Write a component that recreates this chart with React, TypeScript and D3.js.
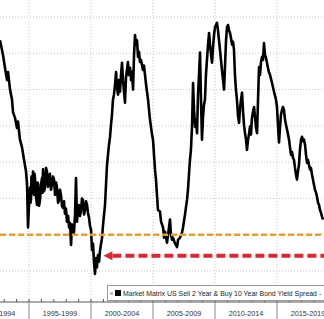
import React from "react";
import * as d3 from "d3";

const W = 324;
const H = 319;

// Decimal year of each observation
const years = [
  1992.66, 1992.9, 1993.06, 1993.23, 1993.31, 1993.47, 1993.63, 1993.71, 1993.87, 1994.03,
  1994.11, 1994.27, 1994.44, 1994.6, 1994.76, 1994.84, 1994.92, 1995.0, 1995.04, 1995.08, 1995.12, 1995.16,
  1995.2, 1995.24, 1995.28, 1995.32, 1995.36, 1995.4, 1995.44, 1995.48, 1995.56, 1995.65, 1995.69, 1995.73, 1995.81, 1995.89, 1995.97, 1996.05, 1996.09, 1996.13, 1996.21, 1996.29,
  1996.37, 1996.45, 1996.53, 1996.61, 1996.69, 1996.77, 1996.85, 1996.94, 1997.02, 1997.1, 1997.18, 1997.26, 1997.34, 1997.42, 1997.5, 1997.58, 1997.66, 1997.74,
  1997.82, 1997.9, 1997.98, 1998.06, 1998.15, 1998.23, 1998.31, 1998.39, 1998.47, 1998.55, 1998.63, 1998.71, 1998.79, 1998.87, 1998.95, 1999.03,
  1999.11, 1999.19, 1999.27, 1999.35, 1999.44, 1999.52, 1999.6, 1999.68, 1999.76, 1999.84, 1999.92, 2000.0, 2000.08, 2000.16, 2000.24, 2000.32,
  2000.4, 2000.48, 2000.56, 2000.65, 2000.73, 2000.89, 2000.97, 2001.13, 2001.21, 2001.29,
  2001.37, 2001.45, 2001.53, 2001.61, 2001.69, 2001.77, 2001.85, 2001.94, 2002.02, 2002.1,
  2002.18, 2002.26, 2002.34, 2002.42, 2002.5, 2002.58, 2002.66, 2002.74, 2002.82, 2002.9,
  2002.98, 2003.06, 2003.15, 2003.23, 2003.31, 2003.39, 2003.47, 2003.55, 2003.63, 2003.71,
  2003.79, 2003.87, 2003.95, 2004.03, 2004.19, 2004.27, 2004.44, 2004.6, 2004.76, 2004.92,
  2005.0, 2005.16, 2005.24, 2005.32, 2005.4, 2005.56, 2005.65, 2005.81, 2005.89, 2005.97,
  2006.13, 2006.21, 2006.29, 2006.37, 2006.45, 2006.53, 2006.61, 2006.77, 2006.94, 2007.02,
  2007.18, 2007.34, 2007.42, 2007.58, 2007.74, 2007.82, 2007.9, 2007.98, 2008.06, 2008.15,
  2008.23, 2008.31, 2008.39, 2008.47, 2008.55, 2008.63, 2008.71, 2008.79, 2008.87, 2008.95,
  2009.03, 2009.11, 2009.19, 2009.27, 2009.35, 2009.44, 2009.52, 2009.6, 2009.68, 2009.76,
  2009.84, 2009.92, 2010.0, 2010.08, 2010.16, 2010.24, 2010.32, 2010.4, 2010.48, 2010.56,
  2010.65, 2010.73, 2010.81, 2010.89, 2010.97, 2011.05, 2011.13, 2011.21, 2011.29, 2011.37,
  2011.45, 2011.53, 2011.61, 2011.69, 2011.77, 2011.85, 2011.94, 2012.02, 2012.1, 2012.18,
  2012.26, 2012.34, 2012.42, 2012.5, 2012.58, 2012.66, 2012.74, 2012.82, 2012.9, 2012.98,
  2013.06, 2013.15, 2013.23, 2013.31, 2013.39, 2013.47, 2013.55, 2013.63, 2013.71, 2013.79,
  2013.87, 2013.95, 2014.03, 2014.11, 2014.19, 2014.27, 2014.35, 2014.44, 2014.6, 2014.76,
  2014.92, 2015.0, 2015.08, 2015.16, 2015.24, 2015.32, 2015.4, 2015.48, 2015.56, 2015.65,
  2015.73, 2015.81, 2015.89, 2015.97, 2016.05, 2016.13, 2016.21, 2016.29, 2016.37, 2016.45,
  2016.53, 2016.61, 2016.69, 2016.77, 2016.85, 2016.94, 2017.02, 2017.1, 2017.18, 2017.26,
  2017.34, 2017.42, 2017.5, 2017.58, 2017.66, 2017.74, 2017.82, 2017.9, 2017.98, 2018.06,
  2018.15, 2018.23, 2018.31, 2018.39, 2018.47, 2018.55, 2018.63, 2018.71,
];

// 2s10s spread, basis points
const spread = [
  268, 248, 230, 213, 224, 200, 186, 169, 161, 147,
  156, 131, 120, 103, 87, 69, 10, 41, 60, 65, 44, 48,
  80, 76, 58, 87, 62, 55, 84, 78, 52, 41, 72, 69, 40, 48, 70, 78, 58, 90, 60, 65,
  92, 87, 66, 78, 84, 62, 69, 80, 76, 55, 72, 65, 44, 48, 62, 54, 40, 37,
  46, 29, 36, 18, 26, 10, 16, -14, 14, 0, 4, 28, 78, 18, 36, 41,
  26, 32, 50, 48, 28, 34, 46, 41, 30, 23, 12, 7, -21, -12, -37, -54,
  -32, -45, -28, -37, -21, -4, 14, 41, 69, 96,
  110, 124, 134, 151, 165, 186, 193, 207, 224, 202,
  193, 213, 197, 220, 237, 213, 197, 182, 216, 227,
  238, 220, 230, 213, 224, 200, 248, 275, 262, 268,
  245, 252, 238, 241, 227, 233, 207, 186, 158, 138,
  131, 90, 76, 55, 34, 32, 18, 10, -4, 4,
  -11, 0, 10, 21, 0, -7, -4, -12, -17, -7,
  -4, 3, 10, 28, 48, 62, 83, 103, 117, 151,
  209, 172, 149, 158, 140, 193, 220, 251, 186, 131,
  161, 179, 186, 220, 241, 262, 278, 262, 248, 237,
  258, 275, 286, 289, 292, 282, 268, 255, 241, 227,
  213, 200, 234, 268, 286, 289, 282, 278, 271, 262,
  266, 255, 220, 200, 186, 165, 154, 175, 186, 196,
  170, 151, 140, 131, 117, 131, 138, 149, 138, 161,
  169, 176, 161, 147, 140, 186, 231, 220, 238, 245,
  241, 264, 248, 244, 237, 230, 224, 220, 209, 197,
  186, 176, 151, 127, 147, 165, 172, 176, 172, 158,
  151, 145, 138, 131, 120, 110, 114, 106, 103, 92,
  83, 76, 87, 96, 117, 131, 135, 129, 131, 124,
  110, 99, 103, 96, 90, 92, 83, 76, 69, 62,
  58, 52, 44, 41, 34, 30, 25, 21,
];

const gridValues = [-50, 0, 50, 100, 150, 200, 250, 300];
const periodStarts = [1990, 1995, 2000, 2005, 2010, 2015];
const periodLabels = ["1990-1994", "1995-1999", "2000-2004", "2005-2009", "2010-2014", "2015-2019"];
const yearTicks = d3.range(1992, 2020);
const zeroLine = 0;
const arrowLevel = -29;
const arrowStartYear = 2001.0;
const legendLabel = "Market Matrix US Sell 2 Year & Buy 10 Year Bond Yield Spread -";

export default function App() {
  const x = d3.scaleLinear().domain([1992.66, 2018.79]).range([0, W]);
  const y = d3.scaleLinear().domain([-50, 300]).range([271, 17]);
  const axisY = 302;

  const data = years.map((yr, i) => [yr, spread[i]] as [number, number]);
  const line = d3
    .line<[number, number]>()
    .x((d) => x(d[0]))
    .y((d) => y(d[1]));

  const ay = y(arrowLevel);
  const ax = x(arrowStartYear);
  const font = "'Liberation Sans', Arial, sans-serif";

  return (
    <svg
      width={W}
      height={H}
      style={{ position: "fixed", left: 0, top: 0, background: "#fff" }}
    >
      <rect x={0} y={0} width={W} height={H} fill="#fff" />
      {gridValues.map((v) => (
        <line
          key={"h" + v}
          x1={0}
          x2={W}
          y1={y(v)}
          y2={y(v)}
          stroke="#c4c4c4"
          strokeWidth={1}
          strokeDasharray="1,2"
        />
      ))}
      {periodStarts.slice(1).map((p) => (
        <line
          key={"v" + p}
          x1={x(p)}
          x2={x(p)}
          y1={0}
          y2={axisY}
          stroke="#c4c4c4"
          strokeWidth={1}
          strokeDasharray="1,2"
        />
      ))}
      <path
        d={line(data) || ""}
        fill="none"
        stroke="#000"
        strokeWidth={2.6}
        strokeLinejoin="round"
      />
      <line
        x1={0}
        x2={W}
        y1={y(zeroLine)}
        y2={y(zeroLine)}
        stroke="#ec9a33"
        strokeWidth={2.5}
        strokeDasharray="6,3"
      />
      <line
        x1={ax + 9}
        x2={W}
        y1={ay}
        y2={ay}
        stroke="#d42a35"
        strokeWidth={4}
        strokeDasharray="9,4"
      />
      <path
        d={`M${ax},${ay} L${ax + 9},${ay - 4.5} L${ax + 9},${ay + 4.5} Z`}
        fill="#d42a35"
      />
      <line x1={0} x2={W} y1={axisY} y2={axisY} stroke="#555" strokeWidth={1} />
      {yearTicks.map((t) => (
        <line
          key={"t" + t}
          x1={x(t)}
          x2={x(t)}
          y1={axisY - 3}
          y2={axisY}
          stroke="#555"
          strokeWidth={1}
        />
      ))}
      {periodStarts.slice(1).map((p) => (
        <line
          key={"s" + p}
          x1={x(p)}
          x2={x(p)}
          y1={axisY}
          y2={H}
          stroke="#888"
          strokeWidth={1}
        />
      ))}
      {periodStarts.map((p, i) => (
        <text
          key={"l" + p}
          x={x(p + 2.5)}
          y={316}
          fontSize={7.2}
          fontFamily={font}
          fill="#333"
          textAnchor="middle"
        >
          {periodLabels[i]}
        </text>
      ))}
      <rect x={107.5} y={285.5} width={230} height={15} fill="#fff" stroke="#999" strokeWidth={1} />
      <rect x={110} y={292} width={3} height={3} fill="#bbb" />
      <rect x={115} y={290} width={6} height={6} fill="#000" />
      <text x={123} y={296} fontSize={6.95} fontFamily={font} fill="#222">
        {legendLabel}
      </text>
    </svg>
  );
}
